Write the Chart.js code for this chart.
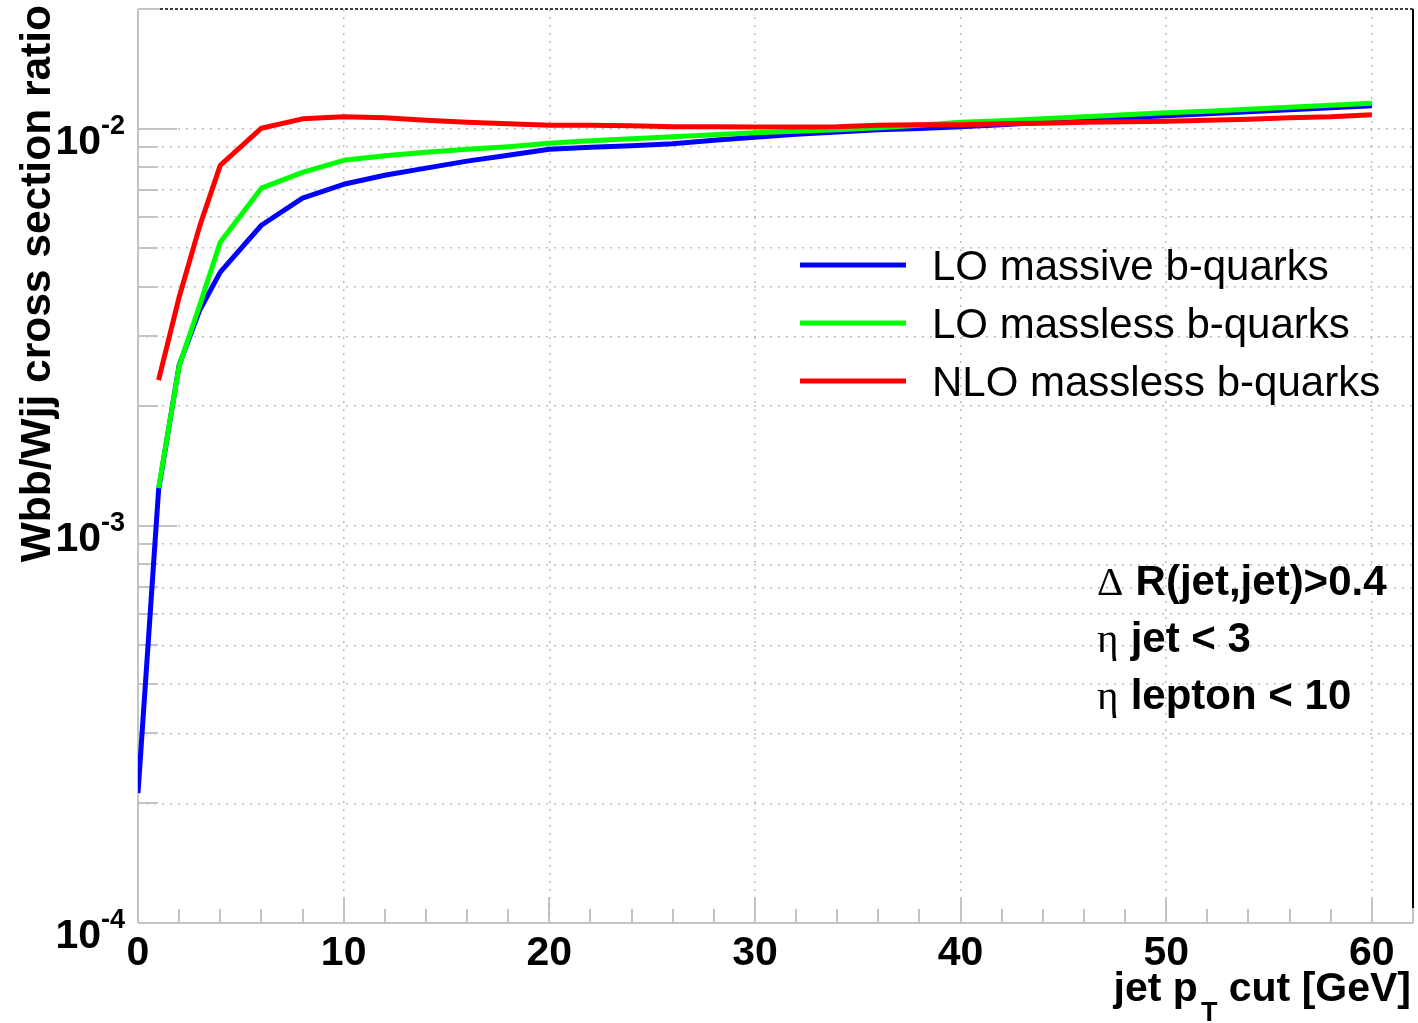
<!DOCTYPE html>
<html>
<head>
<meta charset="utf-8">
<title>Wbb/Wjj cross section ratio vs jet pT cut</title>
<script src="https://cdn.jsdelivr.net/npm/chart.js@4.4.1/dist/chart.umd.min.js"></script>
<style>
  html, body { margin: 0; padding: 0; background: #ffffff; overflow: hidden; }
  #wrap { position: relative; width: 1418px; height: 1023px; }
</style>
</head>
<body>
<div id="wrap"><canvas id="c"></canvas></div>
<script>
// jet pT cut values [GeV]
const ptCut = [0, 1, 2, 3, 4, 6, 8, 10, 12, 14, 16, 18, 20, 22, 24, 26, 28, 30,
               32, 34, 36, 38, 40, 42, 44, 46, 48, 50, 52, 54, 56, 58, 60];

// Wbb/Wjj cross section ratio for each calculation
const loMassive = [2.125e-4, 1.229e-3, 2.538e-3, 3.489e-3, 4.35e-3, 5.71e-3, 6.68e-3, 7.24e-3,
                   7.63e-3, 7.95e-3, 8.28e-3, 8.57e-3, 8.87e-3, 8.97e-3, 9.05e-3, 9.16e-3,
                   9.35e-3, 9.51e-3, 9.67e-3, 9.81e-3, 9.93e-3, 1.000e-2, 1.010e-2, 1.022e-2,
                   1.037e-2, 1.052e-2, 1.065e-2, 1.077e-2, 1.090e-2, 1.102e-2, 1.115e-2,
                   1.128e-2, 1.141e-2];
const loMassless = [null, 1.244e-3, 2.523e-3, 3.592e-3, 5.175e-3, 7.08e-3, 7.76e-3, 8.32e-3,
                    8.54e-3, 8.72e-3, 8.87e-3, 9.00e-3, 9.18e-3, 9.32e-3, 9.43e-3, 9.54e-3,
                    9.65e-3, 9.76e-3, 9.84e-3, 9.93e-3, 1.005e-2, 1.019e-2, 1.037e-2, 1.046e-2,
                    1.058e-2, 1.071e-2, 1.083e-2, 1.096e-2, 1.105e-2, 1.118e-2, 1.131e-2,
                    1.144e-2, 1.158e-2];
const nloMassless = [null, 2.326e-3, 3.762e-3, 5.68e-3, 8.08e-3, 1.002e-2, 1.058e-2, 1.071e-2,
                     1.065e-2, 1.049e-2, 1.037e-2, 1.028e-2, 1.019e-2, 1.019e-2, 1.016e-2, 1.010e-2,
                     1.010e-2, 1.009e-2, 1.009e-2, 1.010e-2, 1.019e-2, 1.022e-2, 1.022e-2, 1.028e-2,
                     1.031e-2, 1.037e-2, 1.040e-2, 1.043e-2, 1.049e-2, 1.055e-2, 1.065e-2,
                     1.071e-2, 1.083e-2];

const seriesNames = ['LO massive b-quarks', 'LO massless b-quarks', 'NLO massless b-quarks'];

// axis labelling
const xTickLabels = [0, 10, 20, 30, 40, 50, 60];
const yDecades = [1e-4, 1e-3, 1e-2];
const yDecadeExponents = ['-4', '-3', '-2'];

// selection cuts shown in the plot
const cutSymbols = ['\u0394', '\u03b7', '\u03b7'];
const cutTexts = ['R(jet,jet)>0.4', 'jet < 3', 'lepton < 10'];

const SANS = '"Liberation Sans", Arial, Helvetica, sans-serif';
const SERIF = '"Liberation Serif", "Times New Roman", serif';
const AXIS_GREY = '#c4c4c4';

function toPoints(values) {
  const pts = [];
  values.forEach((v, i) => { if (v !== null) pts.push({ x: ptCut[i], y: v }); });
  return pts;
}

function isDecade(v) {
  const l = Math.log10(v);
  return Math.abs(l - Math.round(l)) < 1e-9;
}

function seg(ctx, x1, y1, x2, y2) {
  ctx.beginPath();
  ctx.moveTo(x1, y1);
  ctx.lineTo(x2, y2);
  ctx.stroke();
}

// ROOT-style frame: ticks drawn inwards, grey axes, labels with superscripts
const framePlugin = {
  id: 'rootFrame',
  beforeDatasetsDraw(chart) {
    const { ctx, chartArea: a, scales: { x, y } } = chart;
    ctx.save();
    ctx.strokeStyle = AXIS_GREY;
    ctx.lineWidth = 2;
    y.ticks.forEach(t => {
      const py = Math.round(y.getPixelForValue(t.value));
      seg(ctx, a.left, py, a.left + (isDecade(t.value) ? 39 : 20), py);
    });
    x.ticks.forEach(t => {
      const px = Math.round(x.getPixelForValue(t.value));
      seg(ctx, px, a.bottom, px, a.bottom - (t.value % 10 === 0 ? 26 : 14));
    });
    seg(ctx, a.left, a.top, a.left, a.bottom);
    seg(ctx, a.left, a.bottom, a.right, a.bottom);
    seg(ctx, a.left, a.top, a.left + 22, a.top);
    seg(ctx, a.right, a.bottom - 15, a.right, a.bottom);
    // upper and right frame edges
    ctx.strokeStyle = '#000000';
    ctx.lineWidth = 1.5;
    ctx.setLineDash([3, 2]);
    seg(ctx, a.left + 22, a.top, a.right, a.top);
    ctx.setLineDash([]);
    ctx.lineWidth = 2;
    seg(ctx, a.right, a.top, a.right, a.bottom - 15);
    ctx.restore();
  },
  afterDraw(chart) {
    const { ctx, chartArea: a, scales: { x, y } } = chart;
    ctx.save();
    ctx.fillStyle = '#000000';
    ctx.textBaseline = 'alphabetic';

    // x tick labels
    ctx.font = 'bold 41px ' + SANS;
    ctx.textAlign = 'center';
    xTickLabels.forEach(v => ctx.fillText(String(v), x.getPixelForValue(v), 965));

    // y tick labels 10^n
    yDecades.forEach((v, i) => {
      const py = y.getPixelForValue(v);
      const right = 125;
      ctx.font = 'bold 27px ' + SANS;
      const supW = ctx.measureText(yDecadeExponents[i]).width;
      ctx.textAlign = 'left';
      ctx.fillText(yDecadeExponents[i], right - supW, py + 5);
      ctx.font = 'bold 41px ' + SANS;
      ctx.textAlign = 'right';
      ctx.fillText('10', right - supW, py + 25);
    });

    // x axis title with subscript
    ctx.textAlign = 'left';
    ctx.font = 'bold 41px ' + SANS;
    const partA = 'jet p', partC = ' cut [GeV]';
    const wA = ctx.measureText(partA).width;
    const wC = ctx.measureText(partC).width;
    ctx.font = 'bold 27px ' + SANS;
    const wB = ctx.measureText('T').width;
    let tx = 1411 - wA - wB - wC - 3;
    ctx.font = 'bold 41px ' + SANS;
    ctx.fillText(partA, tx, 1001);
    ctx.font = 'bold 27px ' + SANS;
    ctx.fillText('T', tx + wA + 3, 1021);
    ctx.font = 'bold 41px ' + SANS;
    ctx.fillText(partC, tx + wA + wB + 3, 1001);

    // y axis title
    ctx.save();
    ctx.translate(50, 5);
    ctx.rotate(-Math.PI / 2);
    ctx.textAlign = 'right';
    ctx.font = 'bold 42.5px ' + SANS;
    ctx.fillText('Wbb/Wjj cross section ratio', 0, 0);
    ctx.restore();

    // legend
    chart.data.datasets.forEach((ds, i) => {
      const ly = 265 + i * 58;
      ctx.strokeStyle = ds.borderColor;
      ctx.lineWidth = 5;
      seg(ctx, 800, ly, 906, ly);
      ctx.font = '42px ' + SANS;
      ctx.textAlign = 'left';
      ctx.fillText(ds.label, 932, ly + 15);
    });

    // selection cuts
    cutTexts.forEach((txt, i) => {
      const by = 595 + i * 57;
      ctx.font = '41px ' + SERIF;
      ctx.fillText(cutSymbols[i], 1097, by);
      const ws = ctx.measureText(cutSymbols[i] + ' ').width;
      ctx.font = 'bold 42px ' + SANS;
      ctx.fillText(txt, 1097 + ws + 2, by);
    });
    ctx.restore();
  }
};

const yTickValues = [];
for (let k = -4; k <= -2; k++) {
  for (let m = 1; m <= 9; m++) {
    const v = m * Math.pow(10, k);
    if (v <= 0.02 + 1e-12) yTickValues.push(v);
  }
}

const lineStyle = { borderWidth: 5, pointRadius: 0, tension: 0, fill: false,
                    borderJoinStyle: 'round', borderCapStyle: 'butt' };

new Chart(document.getElementById('c'), {
  type: 'line',
  data: {
    datasets: [
      Object.assign({ label: seriesNames[0], data: toPoints(loMassive), borderColor: '#0000ff', order: 3 }, lineStyle),
      Object.assign({ label: seriesNames[1], data: toPoints(loMassless), borderColor: '#00ff00', order: 2 }, lineStyle),
      Object.assign({ label: seriesNames[2], data: toPoints(nloMassless), borderColor: '#ff0000', order: 1 }, lineStyle)
    ]
  },
  options: {
    responsive: true,
    maintainAspectRatio: false,
    animation: false,
    devicePixelRatio: 1,
    layout: { padding: { left: 138, right: 5, top: 9, bottom: 100 } },
    plugins: { legend: { display: false }, tooltip: { enabled: false } },
    scales: {
      x: {
        type: 'linear', min: 0, max: 62,
        ticks: { display: false, stepSize: 2 },
        afterBuildTicks: s => { const t = []; for (let v = 0; v <= 62; v += 2) t.push({ value: v }); s.ticks = t; },
        grid: {
          drawTicks: false,
          lineWidth: 1.5,
          color: c => (c.tick && c.tick.value % 10 === 0 && c.tick.value > 0) ? '#bdbdbd' : 'rgba(0,0,0,0)'
        },
        border: { display: false, dash: [2, 6] }
      },
      y: {
        type: 'logarithmic', min: 1e-4, max: 0.02,
        ticks: { display: false },
        afterBuildTicks: s => { s.ticks = yTickValues.map(v => ({ value: v })); },
        grid: {
          drawTicks: false,
          lineWidth: 1.5,
          color: c => (c.tick && c.tick.value > 1.0001e-4 && c.tick.value < 0.0199) ? '#bdbdbd' : 'rgba(0,0,0,0)'
        },
        border: { display: false, dash: [2, 6] }
      }
    }
  },
  plugins: [framePlugin]
});
</script>
</body>
</html>
